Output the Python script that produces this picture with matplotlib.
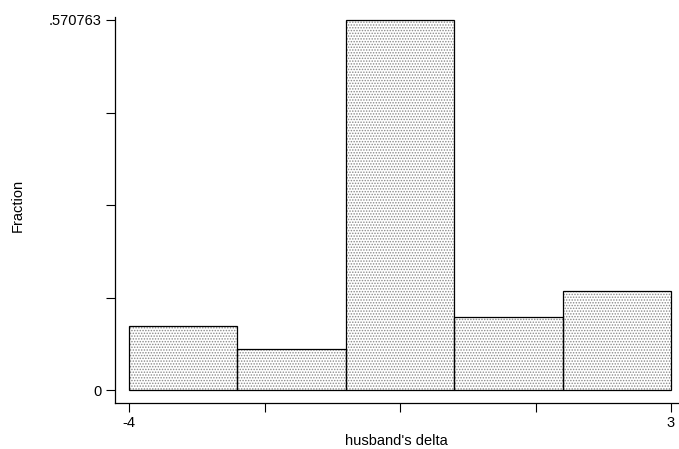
import numpy as np
import matplotlib.pyplot as plt

plt.rcParams['font.family'] = ['Liberation Sans', 'DejaVu Sans']

# histogram of husband's delta, 5 bins from -4 to 3
bin_edges = [-4.0, -2.6, -1.2, 0.2, 1.6, 3.0]
fractions = [0.0987, 0.0639, 0.570763, 0.1125, 0.1532]
y_max = 0.570763
x_ticks = [-4, -2.25, -0.5, 1.25, 3]
x_ticklabels = ['-4', '', '', '', '3']
y_ticks = [0, 0.25 * y_max, 0.5 * y_max, 0.75 * y_max, y_max]
y_ticklabels = ['0', '', '', '', '.570763']

W, H = 679, 449
fig = plt.figure(figsize=(W / 100, H / 100), dpi=100)
ax = fig.add_axes([115 / W, (H - 403) / H, (678 - 115) / W, (403 - 17) / H])

lefts = np.array(bin_edges[:-1])
widths = np.diff(bin_edges)

# stipple fill, then black outlines on top
plt.rcParams['hatch.linewidth'] = 0.7
ax.bar(lefts, fractions, width=widths, align='edge', facecolor='white',
       edgecolor='#8a8a8a', hatch='......', linewidth=0)
ax.bar(lefts, fractions, width=widths, align='edge', fill=False,
       edgecolor='black', linewidth=0.9)

px_x = 542 / 7
px_y = 370.8 / y_max
ax.set_xlim(-4 - 14 / px_x, 3 + 7 / px_x)
ax.set_ylim(-12.8 / px_y, y_max + 3 / px_y)

for s in ['top', 'right']:
    ax.spines[s].set_visible(False)
for s in ['left', 'bottom']:
    ax.spines[s].set_linewidth(0.9)

ax.set_xticks(x_ticks)
ax.set_xticklabels(x_ticklabels)
ax.set_yticks(y_ticks)
ax.set_yticklabels(y_ticklabels)
ax.tick_params(axis='both', length=6.5, width=0.8, labelsize=10.5, pad=3)

ax.set_xlabel("husband's delta", fontsize=10.5)
ax.set_ylabel('Fraction', fontsize=10.5)
ax.yaxis.set_label_coords(-(115 - 25) / (678 - 115), (403 - 205) / (403 - 17))
ax.xaxis.set_label_coords(0.5, -(434 - 403) / (403 - 17))

fig.savefig('out.png', dpi=100, facecolor='white')
